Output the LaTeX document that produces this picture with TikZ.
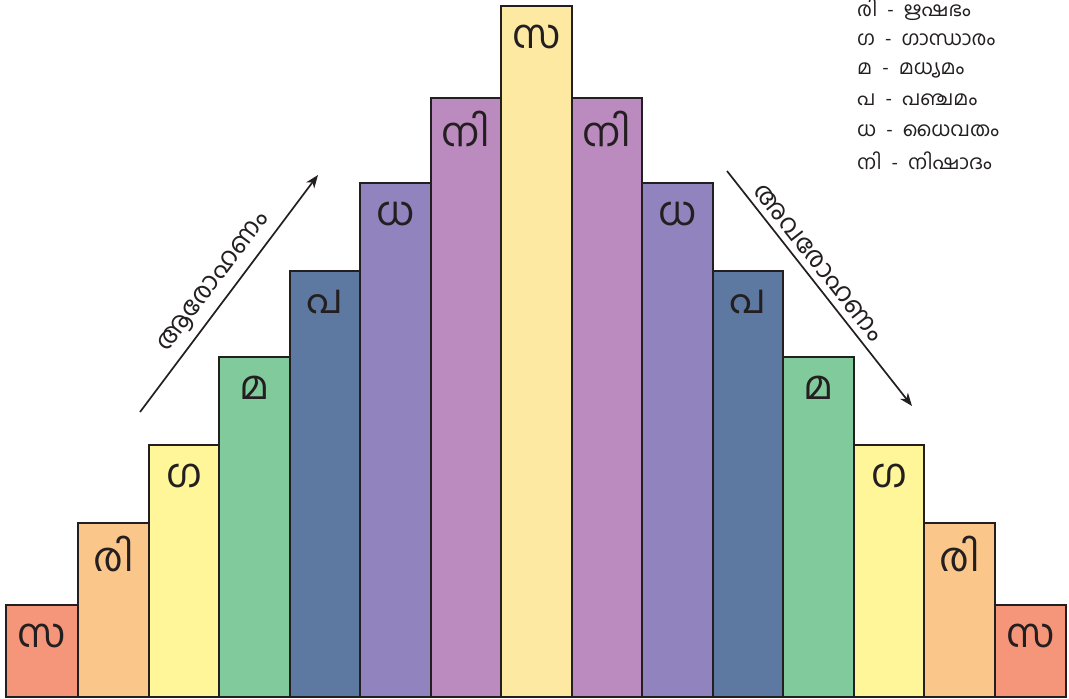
\documentclass[tikz,border=0pt]{standalone}
\usepackage{fontspec}
\usetikzlibrary{arrows.meta}
\newfontfamily\ml[Script=Malayalam]{Hind Kochi}
\definecolor{csa}{HTML}{F5967A}
\definecolor{cri}{HTML}{FBC68A}
\definecolor{cga}{HTML}{FFF599}
\definecolor{cma}{HTML}{80CA9B}
\definecolor{cpa}{HTML}{5E79A1}
\definecolor{cdha}{HTML}{9083BE}
\definecolor{cni}{HTML}{BB8ABE}
\definecolor{csat}{HTML}{FEE9A2}
\definecolor{ink}{HTML}{231F20}
\begin{document}
\begin{tikzpicture}[x=1pt,y=-1pt,
  bar/.style={draw=ink, line width=1.8pt, inner sep=0pt, outer sep=0pt, anchor=north west},
  lbl/.style={font=\ml\fontsize{40}{44}\selectfont, text=ink, inner sep=0pt},
  leg/.style={font=\ml\fontsize{20}{24}\selectfont, text=ink, inner sep=0pt, anchor=west},
  arr/.style={draw=ink, line width=1.7pt, -{Stealth[length=13pt,width=10pt,inset=4pt]}},
  alab/.style={font=\ml\fontsize{26}{30}\selectfont, text=ink, sloped}]
\useasboundingbox (0,0) rectangle (1069,699);
\foreach \i/\a/\b/\t/\c/\l in {
  1/6/78/605/csa/സ, 2/78/149/523/cri/രി, 3/149/219/445/cga/ഗ,
  4/219/290/357/cma/മ, 5/290/360/271/cpa/പ, 6/360/431/183/cdha/ധ,
  7/431/501/98/cni/നി, 8/501/572/6/csat/സ, 9/572/642/98/cni/നി,
  10/642/713/183/cdha/ധ, 11/713/783/271/cpa/പ, 12/783/854/357/cma/മ,
  13/854/924/445/cga/ഗ, 14/924/995/523/cri/രി, 15/995/1066/605/csa/സ}{
  \node[bar, fill=\c, minimum width={\b-\a}, minimum height={697-\t}] (b\i) at (\a,\t) {};
  \node[lbl] (l\i) at ({(\a+\b)/2},\t+31) {\l};
}
\coordinate (u1) at (140,412);
\coordinate (u2) at (318,175);
\coordinate (d1) at (727,171);
\coordinate (d2) at (912,406);
\draw[arr] (u1) -- (u2) node[alab, midway, above=3pt] (tu) {ആരോഹണം};
\draw[arr] (d1) -- (d2) node[alab, pos=0.43, above=3pt] (td) {അവരോഹണം};
\node[leg] (g1) at (857,10) {രി\ \ -\ \ ഋഷഭം};
\node[leg] (g2) at (857,40) {ഗ\ \ -\ \ ഗാന്ധാരം};
\node[leg] (g3) at (857,70) {മ\ \ -\ \ മധ്യമം};
\node[leg] (g4) at (857,100) {പ\ \ -\ \ പഞ്ചമം};
\node[leg] (g5) at (857,131) {ധ\ \ -\ \ ധൈവതം};
\node[leg] (g6) at (857,161) {നി\ \ -\ \ നിഷാദം};
\end{tikzpicture}
\end{document}
